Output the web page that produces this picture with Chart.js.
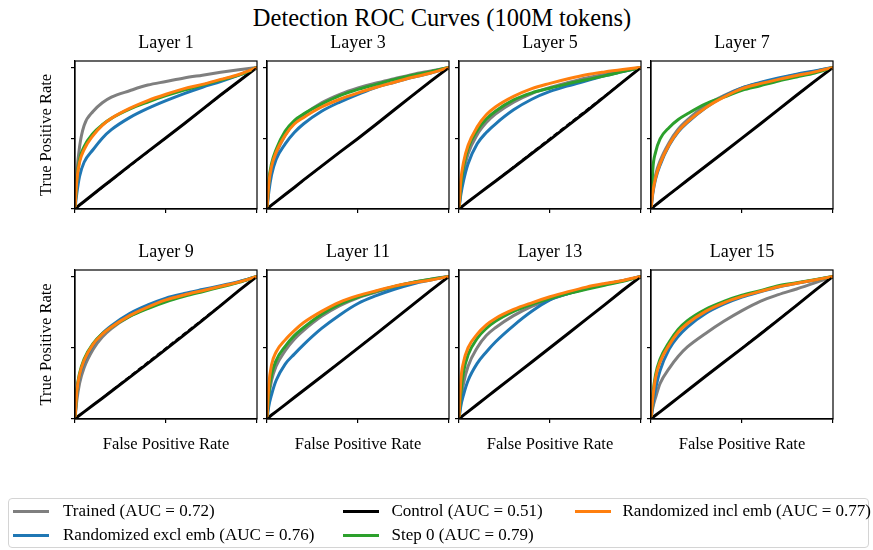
<!DOCTYPE html>
<html>
<head>
<meta charset="utf-8">
<title>Detection ROC Curves (100M tokens)</title>
<script src="https://cdn.jsdelivr.net/npm/chart.js@4/dist/chart.umd.min.js"></script>
<style>
  html, body { margin: 0; padding: 0; background: #fff; }
  body { position: relative; width: 873px; height: 550px; overflow: hidden;
         font-family: "Liberation Serif", "Times New Roman", serif; color: #000; }
  canvas.panel { position: absolute; left: 0; top: 0; }
  #suptitle { position: absolute; left: 0; top: 6px; width: 884px; text-align: center;
              font-size: 24.5px; line-height: 24.5px; white-space: nowrap; }
  #legend { position: absolute; left: 8px; top: 498px; width: 861px; height: 50px;
            box-sizing: border-box; border: 1px solid #d4d4d4; border-radius: 4px; background: #fff; }
  .handle { position: absolute; width: 36px; height: 3px; }
  .entry { position: absolute; font-size: 17px; line-height: 20px; white-space: nowrap; }
</style>
</head>
<body>
<div id="suptitle">Detection ROC Curves (100M tokens)</div>
<div id="legend"></div>
<script>
// ---- data ---------------------------------------------------------------
const layerNames = ['Layer 1', 'Layer 3', 'Layer 5', 'Layer 7', 'Layer 9', 'Layer 11', 'Layer 13', 'Layer 15'];

// false positive rates at which each curve is sampled
const fpr = [0, 0.01, 0.025, 0.05, 0.1, 0.15, 0.2, 0.3, 0.4, 0.5, 0.6, 0.7, 0.8, 0.9, 1];

// true positive rates, one row per layer
const trainedTpr = [
  [0, 0.25, 0.44, 0.59, 0.69, 0.75, 0.79, 0.835, 0.875, 0.9, 0.925, 0.945, 0.965, 0.983, 1],
  [0, 0.16, 0.29, 0.39, 0.52, 0.61, 0.665, 0.75, 0.81, 0.855, 0.89, 0.92, 0.95, 0.975, 1],
  [0, 0.13, 0.26, 0.39, 0.525, 0.61, 0.67, 0.755, 0.815, 0.858, 0.893, 0.925, 0.952, 0.975, 1],
  [0, 0.13, 0.24, 0.34, 0.47, 0.565, 0.63, 0.73, 0.8, 0.855, 0.89, 0.92, 0.948, 0.972, 1],
  [0, 0.13, 0.25, 0.36, 0.49, 0.575, 0.635, 0.72, 0.78, 0.83, 0.868, 0.9, 0.93, 0.962, 1],
  [0, 0.15, 0.27, 0.37, 0.48, 0.56, 0.62, 0.72, 0.795, 0.85, 0.89, 0.928, 0.957, 0.98, 1],
  [0, 0.13, 0.25, 0.37, 0.5, 0.585, 0.64, 0.725, 0.79, 0.84, 0.88, 0.915, 0.945, 0.97, 1],
  [0, 0.08, 0.15, 0.25, 0.355, 0.44, 0.505, 0.6, 0.685, 0.76, 0.825, 0.872, 0.912, 0.955, 1]
];
const randExclTpr = [
  [0, 0.11, 0.23, 0.33, 0.42, 0.5, 0.56, 0.645, 0.71, 0.765, 0.815, 0.86, 0.9, 0.945, 1],
  [0, 0.12, 0.24, 0.35, 0.46, 0.54, 0.6, 0.69, 0.755, 0.81, 0.86, 0.895, 0.93, 0.96, 1],
  [0, 0.1, 0.2, 0.32, 0.46, 0.54, 0.6, 0.7, 0.775, 0.83, 0.87, 0.905, 0.94, 0.97, 1],
  [0, 0.11, 0.21, 0.31, 0.45, 0.545, 0.61, 0.715, 0.795, 0.855, 0.893, 0.925, 0.952, 0.975, 1],
  [0, 0.18, 0.3, 0.4, 0.52, 0.6, 0.655, 0.74, 0.8, 0.848, 0.88, 0.908, 0.935, 0.963, 1],
  [0, 0.09, 0.17, 0.27, 0.385, 0.455, 0.52, 0.635, 0.73, 0.81, 0.865, 0.91, 0.947, 0.975, 1],
  [0, 0.09, 0.17, 0.27, 0.39, 0.47, 0.54, 0.655, 0.755, 0.835, 0.88, 0.915, 0.945, 0.97, 1],
  [0, 0.1, 0.21, 0.34, 0.49, 0.58, 0.645, 0.74, 0.805, 0.855, 0.892, 0.926, 0.952, 0.975, 1]
];
const controlTpr = [
  [0, 0.012, 0.028, 0.053, 0.104, 0.155, 0.205, 0.306, 0.405, 0.503, 0.602, 0.703, 0.805, 0.902, 1],
  [0, 0.011, 0.027, 0.052, 0.102, 0.152, 0.204, 0.303, 0.402, 0.498, 0.598, 0.701, 0.802, 0.903, 1],
  [0, 0.011, 0.026, 0.051, 0.1, 0.148, 0.196, 0.293, 0.392, 0.49, 0.59, 0.69, 0.793, 0.898, 1],
  [0, 0.012, 0.027, 0.053, 0.103, 0.153, 0.203, 0.302, 0.401, 0.5, 0.6, 0.702, 0.803, 0.903, 1],
  [0, 0.011, 0.026, 0.05, 0.098, 0.146, 0.195, 0.292, 0.39, 0.49, 0.59, 0.692, 0.795, 0.9, 1],
  [0, 0.012, 0.028, 0.052, 0.101, 0.151, 0.2, 0.298, 0.397, 0.497, 0.597, 0.699, 0.8, 0.902, 1],
  [0, 0.012, 0.027, 0.052, 0.102, 0.152, 0.202, 0.301, 0.4, 0.5, 0.6, 0.7, 0.8, 0.903, 1],
  [0, 0.011, 0.026, 0.05, 0.1, 0.15, 0.2, 0.3, 0.398, 0.495, 0.594, 0.695, 0.797, 0.9, 1]
];
const step0Tpr = [
  [0, 0.21, 0.35, 0.44, 0.535, 0.595, 0.64, 0.705, 0.755, 0.8, 0.84, 0.875, 0.91, 0.945, 1],
  [0, 0.2, 0.32, 0.42, 0.55, 0.625, 0.67, 0.74, 0.8, 0.845, 0.88, 0.915, 0.945, 0.97, 1],
  [0, 0.16, 0.3, 0.43, 0.555, 0.635, 0.69, 0.77, 0.82, 0.853, 0.885, 0.913, 0.94, 0.97, 1],
  [0, 0.28, 0.4, 0.495, 0.576, 0.632, 0.672, 0.742, 0.79, 0.838, 0.87, 0.903, 0.932, 0.96, 1],
  [0, 0.2, 0.32, 0.42, 0.53, 0.598, 0.645, 0.72, 0.775, 0.822, 0.86, 0.893, 0.925, 0.958, 1],
  [0, 0.18, 0.31, 0.41, 0.51, 0.585, 0.64, 0.735, 0.805, 0.855, 0.895, 0.93, 0.958, 0.98, 1],
  [0, 0.18, 0.33, 0.45, 0.565, 0.635, 0.685, 0.755, 0.805, 0.845, 0.88, 0.91, 0.938, 0.965, 1],
  [0, 0.17, 0.31, 0.42, 0.54, 0.63, 0.69, 0.77, 0.825, 0.868, 0.9, 0.935, 0.955, 0.977, 1]
];
const randInclTpr = [
  [0, 0.2, 0.33, 0.42, 0.52, 0.59, 0.64, 0.71, 0.765, 0.81, 0.85, 0.88, 0.915, 0.95, 1],
  [0, 0.18, 0.3, 0.4, 0.52, 0.6, 0.645, 0.72, 0.775, 0.82, 0.86, 0.895, 0.93, 0.96, 1],
  [0, 0.2, 0.33, 0.45, 0.58, 0.665, 0.72, 0.795, 0.85, 0.887, 0.92, 0.948, 0.968, 0.985, 1],
  [0, 0.12, 0.22, 0.32, 0.455, 0.55, 0.615, 0.715, 0.79, 0.85, 0.885, 0.915, 0.943, 0.968, 1],
  [0, 0.19, 0.31, 0.41, 0.525, 0.595, 0.645, 0.725, 0.785, 0.835, 0.87, 0.9, 0.93, 0.96, 1],
  [0, 0.24, 0.38, 0.47, 0.555, 0.62, 0.675, 0.755, 0.82, 0.865, 0.9, 0.932, 0.955, 0.975, 1],
  [0, 0.27, 0.4, 0.5, 0.595, 0.66, 0.705, 0.768, 0.815, 0.857, 0.893, 0.925, 0.95, 0.972, 1],
  [0, 0.15, 0.29, 0.4, 0.52, 0.61, 0.67, 0.755, 0.815, 0.86, 0.895, 0.928, 0.952, 0.975, 1]
];

// axis tick positions (unlabelled)
const tickValues = [0, 0.5, 1];

// legend entries (name, AUC), in column order
const seriesNames = ['Trained', 'Randomized excl emb', 'Control', 'Step 0', 'Randomized incl emb'];
const seriesAuc = [0.72, 0.76, 0.51, 0.79, 0.77];

// ---- styling ------------------------------------------------------------
const SERIF = '"Liberation Serif", "Times New Roman", serif';
const seriesColors = ['#7f7f7f', '#1f77b4', '#000000', '#2ca02c', '#ff7f0e'];

Chart.defaults.font.family = SERIF;
Chart.defaults.color = '#000';

const PAGE_W = 873, PAGE_H = 550;
const colLeft = [75, 267, 459, 651];
const PANEL_W = 182;
const rowTop = [61, 270];
const rowBottom = [209, 419];
const Y_AXIS_W = 42, X_AXIS_H = 40;
const TITLE_SIZE = 18, TITLE_PAD = 7;
const TITLE_H = TITLE_SIZE * 1.2 + TITLE_PAD;

// closed frame (all four spines) around each plot area
const framePlugin = {
  id: 'frame',
  afterDraw(chart) {
    const { ctx, chartArea: a } = chart;
    ctx.save();
    ctx.strokeStyle = '#000';
    ctx.lineWidth = 1.2;
    ctx.strokeRect(a.left, a.top, a.right - a.left, a.bottom - a.top);
    ctx.restore();
  }
};

function curve(tpr) {
  return fpr.map((x, k) => ({ x: x, y: tpr[k] }));
}

function roc(label, tpr, color) {
  return {
    label: label, data: curve(tpr), borderColor: color, backgroundColor: color,
    borderWidth: 3, pointRadius: 0, fill: false, tension: 0,
    cubicInterpolationMode: 'monotone'
  };
}

function makePanel(i) {
  const c = i % 4, r = Math.floor(i / 4);
  const L = colLeft[c], R = L + PANEL_W, T = rowTop[r], B = rowBottom[r];

  const canvas = document.createElement('canvas');
  canvas.className = 'panel';
  canvas.width = PAGE_W;
  canvas.height = PAGE_H;
  document.body.insertBefore(canvas, document.getElementById('legend'));

  const control = roc(seriesNames[2], controlTpr[i], seriesColors[2]);
  control.cubicInterpolationMode = 'default';

  // first dataset is painted last (on top)
  const datasets = [
    { label: 'chance', data: [{ x: 0, y: 0 }, { x: 1, y: 1 }], borderColor: '#000',
      borderWidth: 1.4, borderDash: [5, 3], pointRadius: 0, fill: false, tension: 0 },
    roc(seriesNames[4], randInclTpr[i], seriesColors[4]),
    roc(seriesNames[3], step0Tpr[i], seriesColors[3]),
    control,
    roc(seriesNames[1], randExclTpr[i], seriesColors[1]),
    roc(seriesNames[0], trainedTpr[i], seriesColors[0])
  ];

  const axisCommon = {
    type: 'linear',
    ticks: { display: false },
    afterBuildTicks: s => { s.ticks = tickValues.map(v => ({ value: v })); },
    grid: { display: true, drawOnChartArea: false, drawTicks: true, tickLength: 4,
            color: '#000', lineWidth: 1.2 },
    border: { display: true, color: '#000', width: 1.2 }
  };

  new Chart(canvas, {
    type: 'line',
    data: { datasets: datasets },
    options: {
      responsive: false,
      animation: false,
      devicePixelRatio: 1,
      events: [],
      layout: { padding: { left: L - Y_AXIS_W, right: PAGE_W - R,
                           top: T - TITLE_H, bottom: PAGE_H - B - X_AXIS_H } },
      plugins: {
        legend: { display: false },
        tooltip: { enabled: false },
        title: { display: true, text: layerNames[i], fullSize: false, color: '#000',
                 font: { family: SERIF, size: TITLE_SIZE, weight: 'normal' },
                 padding: { top: 0, bottom: TITLE_PAD } }
      },
      scales: {
        x: Object.assign({}, axisCommon, {
          min: 0, max: 1,
          afterFit: s => { s.height = X_AXIS_H; },
          title: { display: r === 1, text: 'False Positive Rate', color: '#000',
                   font: { family: SERIF, size: 16.5 }, padding: { top: 0, bottom: 4 } }
        }),
        y: Object.assign({}, axisCommon, {
          min: 0, max: 1.045,
          afterFit: s => { s.width = Y_AXIS_W; },
          title: { display: c === 0, text: 'True Positive Rate', color: '#000',
                   font: { family: SERIF, size: 16.5 }, padding: { top: 3.6, bottom: 0 } }
        })
      }
    },
    plugins: [framePlugin]
  });
}

layerNames.forEach((_, i) => makePanel(i));

// ---- legend (3 columns, filled column by column) --------------------------
const legendCols = [
  { handle: 13.3, text: 63 },
  { handle: 343, text: 391.5 },
  { handle: 575, text: 622.5 }
];
const legendRows = [511, 535];
const legendBox = document.getElementById('legend');
const boxLeft = 8, boxTop = 498;
seriesNames.forEach((name, k) => {
  const col = legendCols[Math.floor(k / 2)];
  const y = legendRows[k % 2];
  const h = document.createElement('div');
  h.className = 'handle';
  h.style.left = (col.handle - boxLeft - 1) + 'px';
  h.style.top = (y - 1.5 - boxTop - 1) + 'px';
  h.style.background = seriesColors[k];
  legendBox.appendChild(h);
  const t = document.createElement('div');
  t.className = 'entry';
  t.style.left = (col.text - boxLeft - 1) + 'px';
  t.style.top = (y - 10 - boxTop - 1) + 'px';
  t.textContent = name + ' (AUC = ' + seriesAuc[k].toFixed(2) + ')';
  legendBox.appendChild(t);
});
</script>
</body>
</html>
